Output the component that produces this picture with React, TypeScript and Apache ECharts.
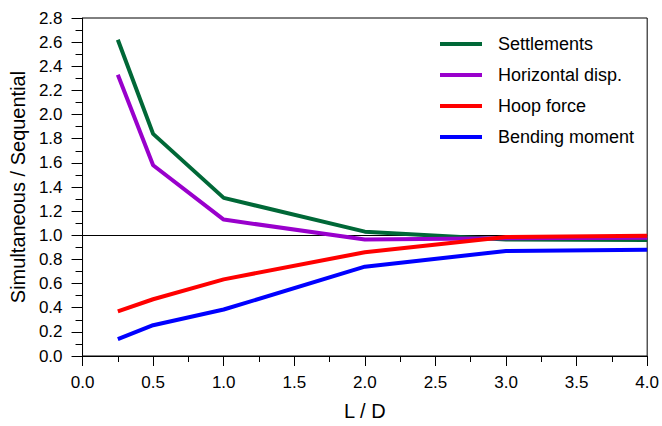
import React, { useEffect, useRef } from "react";
import * as echarts from "echarts";

const xValues = [0.25, 0.5, 1, 2, 3, 4];
const seriesNames = ["Settlements", "Horizontal disp.", "Hoop force", "Bending moment"];
const settlements = [2.62, 1.84, 1.31, 1.03, 0.965, 0.96];
const horizontalDisp = [2.33, 1.58, 1.13, 0.965, 0.975, 0.98];
const hoopForce = [0.37, 0.47, 0.635, 0.86, 0.985, 0.997];
const bendingMoment = [0.14, 0.255, 0.385, 0.74, 0.87, 0.88];
const colors = ["#006837", "#9900CC", "#FF0000", "#0000FF"];

const FONT = "'Liberation Sans', Arial, sans-serif";

export default function App() {
  const ref = useRef<HTMLDivElement>(null);
  useEffect(() => {
    if (!ref.current) return;
    const chart = echarts.init(ref.current, undefined, { renderer: "svg" });
    const allData = [settlements, horizontalDisp, hoopForce, bendingMoment];
    const series: any[] = allData.map((d, i) => ({
      name: seriesNames[i],
      type: "line",
      data: d.map((v, j) => [xValues[j], v]),
      showSymbol: false,
      symbol: "none",
      color: colors[i],
      lineStyle: { width: 4, color: colors[i] },
      z: 3,
    }));
    series[0].markLine = {
      silent: true,
      symbol: "none",
      label: { show: false },
      lineStyle: { color: "#000", width: 1, type: "solid" },
      data: [{ yAxis: 1 }],
      z: 1,
    };
    chart.setOption({
      animation: false,
      textStyle: { fontFamily: FONT },
      grid: {
        left: 80,
        width: 570,
        top: 18,
        height: 342,
        show: true,
        borderColor: "#000",
        borderWidth: 1,
        backgroundColor: "transparent",
      },
      legend: {
        orient: "vertical",
        left: 440,
        top: 34,
        padding: 0,
        itemWidth: 42,
        itemHeight: 4,
        itemGap: 11,
        icon: "rect",
        data: seriesNames,
        textStyle: {
          fontFamily: FONT,
          fontSize: 18,
          color: "#000",
          lineHeight: 20,
          padding: [0, 0, 0, 11],
        },
      },
      xAxis: {
        type: "value",
        min: 0,
        max: 4,
        interval: 0.5,
        name: "L / D",
        nameLocation: "middle",
        nameGap: 45,
        nameTextStyle: { fontFamily: FONT, fontSize: 20, color: "#000" },
        axisLine: { show: true, lineStyle: { color: "#000", width: 1 } },
        axisTick: { show: true, length: 10, lineStyle: { color: "#000" } },
        minorTick: { show: true, splitNumber: 2, length: 6, lineStyle: { color: "#000" } },
        splitLine: { show: false },
        axisLabel: {
          fontFamily: FONT,
          fontSize: 17,
          color: "#000",
          margin: 18,
          formatter: (v: number) => v.toFixed(1),
        },
      },
      yAxis: {
        type: "value",
        min: 0,
        max: 2.8,
        interval: 0.2,
        name: "Simultaneous / Sequential",
        nameLocation: "middle",
        nameGap: 50,
        nameTextStyle: { fontFamily: FONT, fontSize: 20, color: "#000" },
        axisLine: { show: true, lineStyle: { color: "#000", width: 1 } },
        axisTick: { show: true, length: 11, lineStyle: { color: "#000" } },
        minorTick: { show: true, splitNumber: 2, length: 7, lineStyle: { color: "#000" } },
        splitLine: { show: false },
        axisLabel: {
          fontFamily: FONT,
          fontSize: 17,
          color: "#000",
          margin: 20,
          formatter: (v: number) => v.toFixed(1),
        },
      },
      series,
    });
    return () => chart.dispose();
  }, []);
  return (
    <div
      ref={ref}
      style={{ position: "fixed", left: 0, top: 0, width: 662, height: 426, background: "#fff" }}
    />
  );
}
